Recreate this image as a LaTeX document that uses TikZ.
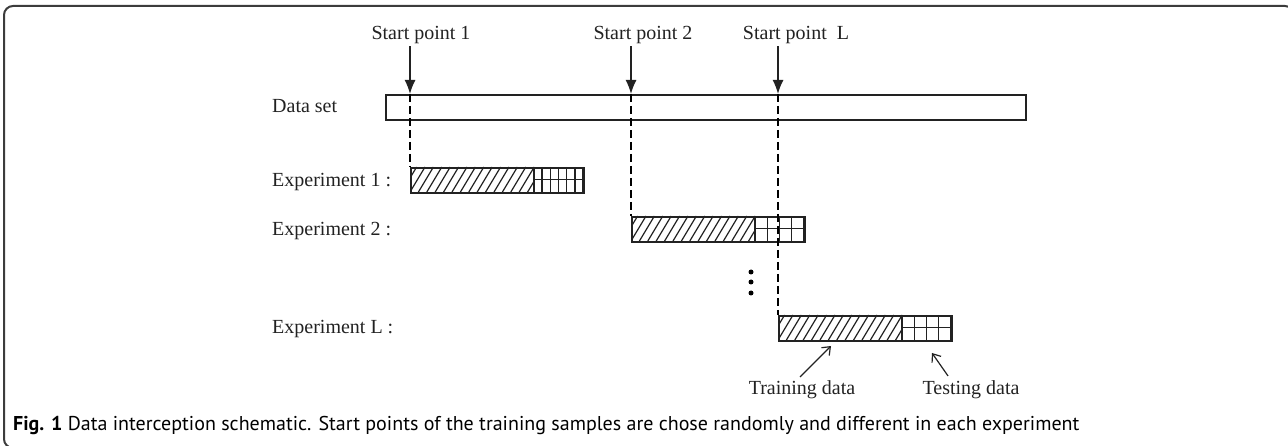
\documentclass[tikz,border=0pt]{standalone}
\usepackage{fontspec}
\setmainfont{Liberation Serif}
\newfontfamily\capfont{PT Sans}
\usetikzlibrary{arrows.meta}

\definecolor{ink}{HTML}{222222}
\definecolor{framecol}{HTML}{3C3C3C}

\tikzset{
  lbl/.style={inner sep=0pt, text=ink, font=\fontsize{20}{24}\selectfont},
  dsbox/.style={draw=ink, line width=1.7pt, minimum width=640pt, minimum height=25pt, inner sep=0pt, anchor=north west},
  expbox/.style={draw=ink, line width=1.7pt, minimum width=173pt, minimum height=25pt, inner sep=0pt, anchor=north west},
  hatchline/.style={draw=ink, line width=1.2pt},
  gridline/.style={draw=ink, line width=1.4pt},
  sparrow/.style={draw=ink, line width=1.5pt, -{Latex[length=14pt,width=11pt]}},
  dashline/.style={draw=black, line width=2.8pt, dash pattern=on 8pt off 4pt},
  ptr/.style={draw=ink, line width=1.2pt, -{Straight Barb[length=7pt,width=11pt]}},
  framebox/.style={draw=framecol, line width=2pt, rounded corners=9pt},
  dotmark/.style={fill=black}
}

\begin{document}
\begin{tikzpicture}[x=1pt,y=-1pt]
\useasboundingbox (0,0) rectangle (1288,446);

% outer frame (its right and bottom sides fall just past the page edge)
\draw[framebox] (4,6) rectangle (1294,448);

% start point labels and their arrows
\node[lbl, anchor=base] (sp1) at (421,40) {Start point 1};
\node[lbl, anchor=base] (sp2) at (643,40) {Start point 2};
\node[lbl, anchor=base] (spL) at (796,40) {Start point\ \ L};

\coordinate (d1) at (410,94);
\coordinate (d2) at (631,94);
\coordinate (dL) at (778,94);

% data set bar
\node[lbl, anchor=base west] (dslbl) at (272,113) {Data set};
\node[dsbox] (ds) at (385,94) {};

% experiment bars: hatched training part followed by a gridded testing part
\foreach \n/\x/\y/\c in {e1/410/167/6, e2/631/216/4, eL/778/315/4} {
  \begin{scope}
    \clip (\x,\y) rectangle (\x+124,\y+25);
    \foreach \k in {-3,...,15}
      \draw[hatchline] (\x+\k*8.4,\y+25) -- ++(15,-25);
  \end{scope}
  \foreach \k in {0,...,\c}
    \draw[gridline] (\x+124+\k*49/\c,\y) -- (\x+124+\k*49/\c,\y+25);
  \draw[gridline] (\x+124,\y+12.5) -- (\x+173,\y+12.5);
  \node[expbox] (\n) at (\x,\y) {};
}

\node[lbl, anchor=base west] (x1) at (272,186.5) {Experiment 1 :};
\node[lbl, anchor=base west] (x2) at (272,235.5) {Experiment 2 :};
\node[lbl, anchor=base west] (xL) at (272,334) {Experiment L :};

% arrows from the labels onto the data set
\draw[sparrow, shorten <=2pt] (sp1.south -| d1) -- (d1);
\draw[sparrow, shorten <=2pt] (sp2.south -| d2) -- (d2);
\draw[sparrow, shorten <=2pt] (spL.south -| dL) -- (dL);

% dashed drops from each start point to its experiment
\draw[dashline] (d1) -- (e1.north west);
\draw[dashline] (d2) -- (e2.north west);
\draw[dashline] (dL) -- (eL.north west);

% vertical ellipsis
\foreach \yy in {272,282,293}
  \fill[dotmark] (751,\yy) circle (2.5pt);

% part labels
\node[lbl, anchor=base] (trn) at (802,394) {Training data};
\node[lbl, anchor=base] (tst) at (971,394) {Testing data};
\coordinate (trnTip) at (831,346);
\coordinate (tstTip) at (932,353);
\draw[ptr] ([xshift=-2pt,yshift=3pt]trn.north) -- (trnTip);
\draw[ptr] ([xshift=-23pt,yshift=4pt]tst.north) -- (tstTip);

% caption
\node[inner sep=0pt, anchor=base west, text=black, font=\capfont\fontsize{20}{24}\selectfont] (cap) at (13,430)
  {\textbf{Fig. 1} Data interception schematic. Start points of the training samples are chose randomly and different in each experiment};
\end{tikzpicture}
\end{document}
